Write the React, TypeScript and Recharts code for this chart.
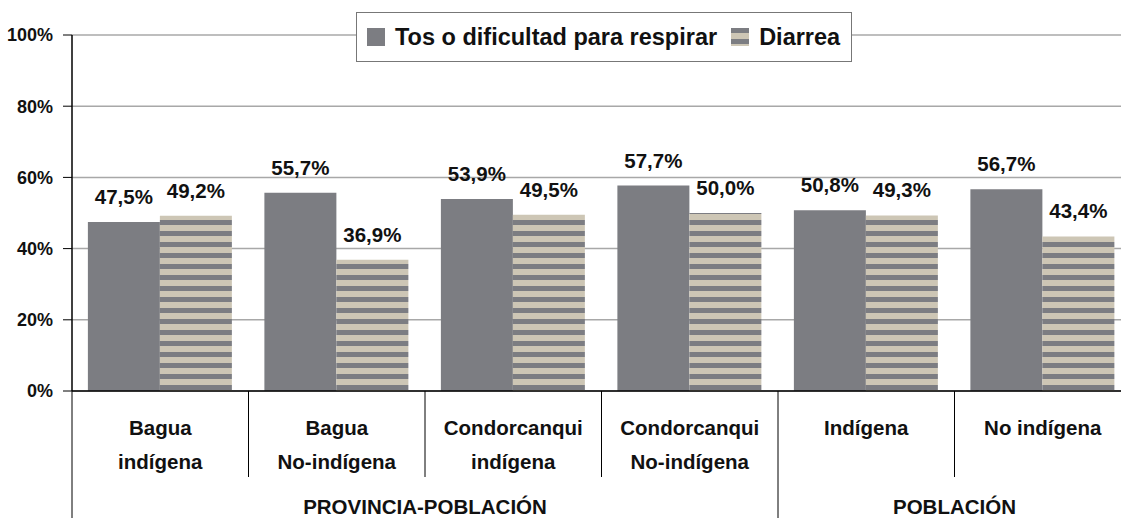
// Bar chart: cough/difficulty breathing vs diarrhoea by province-population group.
import { Bar, BarChart, CartesianGrid, LabelList, XAxis, YAxis } from "recharts";

const categories = [
  ["Bagua", "indígena"],
  ["Bagua", "No-indígena"],
  ["Condorcanqui", "indígena"],
  ["Condorcanqui", "No-indígena"],
  ["Indígena"],
  ["No indígena"],
];
const groups = [
  "PROVINCIA-POBLACIÓN",
  "PROVINCIA-POBLACIÓN",
  "PROVINCIA-POBLACIÓN",
  "PROVINCIA-POBLACIÓN",
  "POBLACIÓN",
  "POBLACIÓN",
];
const tos = [47.5, 55.7, 53.9, 57.7, 50.8, 56.7];
const diarrea = [49.2, 36.9, 49.5, 50.0, 49.3, 43.4];
const yTicks = [0, 20, 40, 60, 80, 100];

const data = categories.map((c, i) => ({
  name: c.join(" "),
  tos: tos[i],
  diarrea: diarrea[i],
}));

const FONT = "'Liberation Sans', Arial, sans-serif";
const DARK = "#7c7d82";
const BEIGE = "#cdc6b5";

const pct = (v: number) => v.toFixed(1).replace(".", ",") + "%";

function CategoryTick(props: any) {
  const { x, y, payload, index } = props;
  const half = payload.offset;
  const lines = categories[index];
  const left = x - half;
  const firstOfGroup = index === 0 || groups[index - 1] !== groups[index];
  const groupSize = groups.filter((g) => g === groups[index]).length;
  return (
    <g>
      <line
        x1={left}
        x2={left}
        y1={y}
        y2={firstOfGroup ? y + 140 : y + 86}
        stroke="#000"
        strokeWidth={1}
      />
      {lines.map((l, k) => (
        <text
          key={k}
          x={x}
          y={y + 37 + k * 34}
          dy="0.35em"
          textAnchor="middle"
          fontFamily={FONT}
          fontWeight="bold"
          fontSize={20.5}
          fill="#111"
        >
          {l}
        </text>
      ))}
      {firstOfGroup && (
        <text
          x={left + groupSize * half}
          y={y + 116}
          dy="0.35em"
          textAnchor="middle"
          fontFamily={FONT}
          fontWeight="bold"
          fontSize={20.5}
          fill="#111"
        >
          {groups[index]}
        </text>
      )}
    </g>
  );
}

function LegendBox() {
  const item = (fill: string, label: string, gap: number) => (
    <span style={{ display: "inline-flex", alignItems: "center", marginRight: gap }}>
      <svg width={18} height={18} style={{ marginRight: 10 }}>
        <rect width={18} height={18} fill={fill} />
      </svg>
      {label}
    </span>
  );
  return (
    <div
      style={{
        position: "absolute",
        left: 356,
        top: 12,
        width: 496,
        height: 50,
        border: "1px solid #777",
        background: "#fff",
        boxSizing: "border-box",
        display: "flex",
        alignItems: "center",
        paddingLeft: 10,
        fontFamily: FONT,
        fontWeight: "bold",
        fontSize: 23.5,
        color: "#111",
        whiteSpace: "nowrap",
      }}
    >
      {item(DARK, "Tos o dificultad para respirar", 14)}
      {item("url(#stripes)", "Diarrea", 0)}
    </div>
  );
}

export default function App() {
  return (
    <div style={{ position: "fixed", left: 0, top: 0, width: 1121, height: 518, overflow: "hidden", background: "#fff" }}>
      <BarChart
        width={1140}
        height={518}
        data={data}
        margin={{ top: 35, right: 9, left: 0, bottom: 0 }}
        barCategoryGap="9%"
        barGap={0}
      >
        <defs>
          <pattern id="stripes" patternUnits="userSpaceOnUse" width={11} height={11}>
            <rect width={11} height={11} fill={BEIGE} />
            <rect width={11} height={5} fill={DARK} />
          </pattern>
        </defs>
        <CartesianGrid vertical={false} stroke="#a8a8a8" strokeWidth={1.5} />
        <XAxis
          dataKey="name"
          height={127}
          interval={0}
          axisLine={{ stroke: "#000", strokeWidth: 1.5 }}
          tickLine={false}
          tickSize={0}
          tickMargin={0}
          tick={<CategoryTick />}
        />
        <YAxis
          width={72}
          domain={[0, 100]}
          ticks={yTicks}
          interval={0}
          tickFormatter={(v) => v + "%"}
          axisLine={{ stroke: "#000", strokeWidth: 1.5 }}
          tickLine={{ stroke: "#000" }}
          tickSize={9}
          tickMargin={10}
          tick={{ fontFamily: FONT, fontWeight: "bold", fontSize: 18, fill: "#111" }}
        />
        <Bar dataKey="tos" name="Tos o dificultad para respirar" fill={DARK} isAnimationActive={false}>
          <LabelList
            dataKey="tos"
            position="top"
            offset={18}
            formatter={(v: any) => pct(Number(v))}
            style={{ fontFamily: FONT, fontWeight: "bold", fontSize: 20.5, fill: "#111" }}
          />
        </Bar>
        <Bar dataKey="diarrea" name="Diarrea" fill="url(#stripes)" isAnimationActive={false}>
          <LabelList
            dataKey="diarrea"
            position="top"
            offset={18}
            formatter={(v: any) => pct(Number(v))}
            style={{ fontFamily: FONT, fontWeight: "bold", fontSize: 20.5, fill: "#111" }}
          />
        </Bar>
      </BarChart>
      <LegendBox />
    </div>
  );
}
